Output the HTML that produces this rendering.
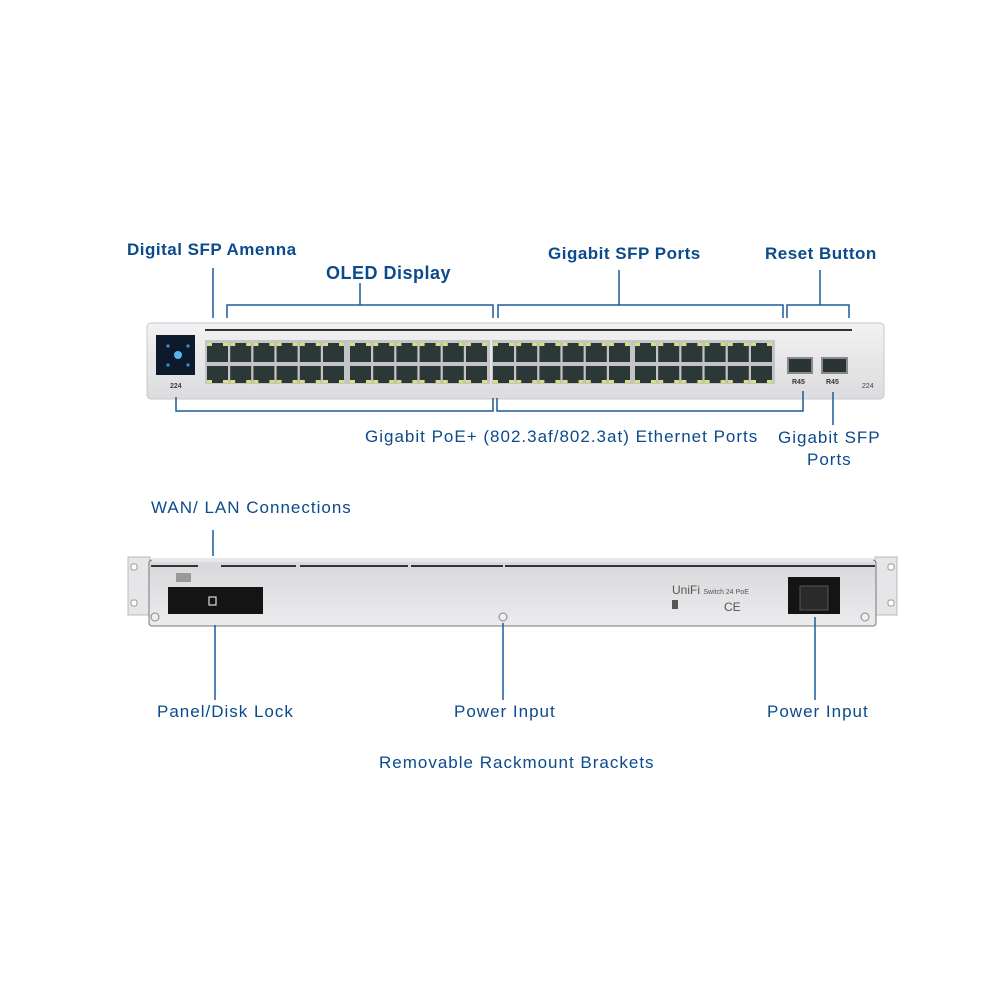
<!DOCTYPE html>
<html><head><meta charset="utf-8"><style>
body{margin:0;width:1000px;height:1000px;background:#fff;position:relative;overflow:hidden;font-family:"Liberation Sans",sans-serif}
.t{position:absolute;color:#0b4a8c;font-size:17px;font-weight:bold;white-space:nowrap;letter-spacing:0.5px}
.n{font-weight:normal;letter-spacing:1px}
svg{position:absolute;left:0;top:0}
</style></head><body>
<svg id="s" width="1000" height="1000" viewBox="0 0 1000 1000">
<defs>
<linearGradient id="fp" x1="0" y1="0" x2="0" y2="1"><stop offset="0" stop-color="#f2f2f3"/><stop offset="1" stop-color="#dcdcde"/></linearGradient>
<linearGradient id="rp" x1="0" y1="0" x2="0" y2="1"><stop offset="0" stop-color="#d8d8da"/><stop offset="1" stop-color="#ececee"/></linearGradient>
</defs>
<rect x="147" y="323" width="737" height="76" rx="4" fill="url(#fp)" stroke="#c9c9cc"/>
<rect x="205" y="329" width="647" height="2" fill="#333"/>
<rect x="156" y="335" width="39" height="40" fill="#0c1a2c"/>
<circle cx="178" cy="355" r="4" fill="#5ab4f0"/>
<circle cx="168" cy="346" r="1.6" fill="#3a8fd8"/><circle cx="188" cy="346" r="1.6" fill="#3a8fd8"/>
<circle cx="168" cy="365" r="1.6" fill="#3a8fd8"/><circle cx="188" cy="365" r="1.6" fill="#3a8fd8"/>
<text x="170" y="388" font-size="7" font-weight="bold" fill="#444" font-family="Liberation Sans">224</text>
<text x="862" y="388" font-size="7" fill="#444" font-family="Liberation Sans">224</text>
<rect x="205" y="340" width="285" height="44" fill="#c4c4c6"/>
<rect x="492" y="340" width="283" height="44" fill="#c4c4c6"/>
<g id="ports"></g>
<rect x="787" y="357" width="26" height="17" fill="#8a8a8a"/><rect x="789" y="359" width="22" height="13" fill="#2a3434"/>
<rect x="821" y="357" width="27" height="17" fill="#8a8a8a"/><rect x="823" y="359" width="23" height="13" fill="#2a3434"/>
<text x="792" y="384" font-size="7" font-weight="bold" fill="#333" font-family="Liberation Sans">R45</text>
<text x="826" y="384" font-size="7" font-weight="bold" fill="#333" font-family="Liberation Sans">R45</text>
<rect x="128" y="557" width="22" height="58" fill="#e6e6e8" stroke="#bbb"/>
<rect x="875" y="557" width="22" height="58" fill="#e6e6e8" stroke="#bbb"/>
<rect x="131" y="564" width="6" height="6" rx="2" fill="#fff" stroke="#999"/>
<rect x="131" y="600" width="6" height="6" rx="2" fill="#fff" stroke="#999"/>
<rect x="888" y="564" width="6" height="6" rx="2" fill="#fff" stroke="#999"/>
<rect x="888" y="600" width="6" height="6" rx="2" fill="#fff" stroke="#999"/>
<rect x="149" y="560" width="727" height="66" rx="3" fill="url(#rp)" stroke="#777"/>
<rect x="152" y="558" width="721" height="4" fill="#e8e8ea"/>
<g fill="#333"><rect x="151" y="565" width="47" height="2"/><rect x="221" y="565" width="75" height="2"/><rect x="300" y="565" width="108" height="2"/><rect x="411" y="565" width="92" height="2"/><rect x="505" y="565" width="370" height="2"/></g>
<rect x="176" y="573" width="15" height="9" fill="#999"/>
<rect x="168" y="587" width="95" height="27" fill="#141414"/>
<rect x="209" y="597" width="7" height="8" fill="none" stroke="#ddd" stroke-width="1.2"/>
<rect x="788" y="577" width="52" height="37" fill="#141414"/>
<rect x="800" y="586" width="28" height="24" fill="#2a2a2a" stroke="#555"/>
<circle cx="155" cy="617" r="4" fill="#eee" stroke="#888"/>
<circle cx="503" cy="617" r="4" fill="#eee" stroke="#888"/>
<circle cx="865" cy="617" r="4" fill="#eee" stroke="#888"/>
<text x="672" y="594" font-size="12" fill="#555" font-family="Liberation Sans">UniFi <tspan font-size="7">Switch 24 PoE</tspan></text>
<text x="724" y="611" font-size="12" fill="#555" font-family="Liberation Sans">CE</text>
<rect x="672" y="600" width="6" height="9" fill="#555"/>
<g stroke="#1b5a9c" stroke-width="1.5" fill="none">
<path d="M213 268V318"/>
<path d="M227 318V305H493V318M360 305V283"/>
<path d="M498 318V305H783V318M619 305V270"/>
<path d="M787 318V305H849V318M820 305V270"/>
<path d="M176 397V411H493V398M497 398V411H803V391"/>
<path d="M833 392V425"/>
<path d="M213 530V556"/>
<path d="M215 625V700"/>
<path d="M503 623V700"/>
<path d="M815 617V700"/>
</g>
</svg>
<div class="t" style="left:127px;top:240px">Digital SFP Amenna</div>
<div class="t" style="left:326px;top:263px;font-size:18px">OLED Display</div>
<div class="t" style="left:548px;top:244px">Gigabit SFP Ports</div>
<div class="t" style="left:765px;top:244px">Reset Button</div>
<div class="t n" style="left:365px;top:427px">Gigabit PoE+ (802.3af/802.3at) Ethernet Ports</div>
<div class="t n" style="left:778px;top:427px;text-align:center;line-height:22px">Gigabit SFP<br>Ports</div>
<div class="t n" style="left:151px;top:498px">WAN/ LAN Connections</div>
<div class="t n" style="left:157px;top:702px">Panel/Disk Lock</div>
<div class="t n" style="left:454px;top:702px">Power Input</div>
<div class="t n" style="left:767px;top:702px">Power Input</div>
<div class="t n" style="left:379px;top:753px">Removable Rackmount Brackets</div>
<script>
var g=document.getElementById('ports'),h='';
[207,350,493,635].forEach(function(gx){for(var i=0;i<6;i++){var x=gx+i*23.2;
[[343,19],[366,17]].forEach(function(r){
h+='<rect x="'+x+'" y="'+r[0]+'" width="21" height="'+r[1]+'" fill="#2c3838"/>';
var ly=r[0]==343?r[0]:r[0]+r[1]-3;
h+='<rect x="'+x+'" y="'+ly+'" width="5" height="3" fill="#d8e07a"/><rect x="'+(x+16)+'" y="'+ly+'" width="5" height="3" fill="#d8e07a"/>';
});}});
g.innerHTML=h;
</script>
</body></html>
